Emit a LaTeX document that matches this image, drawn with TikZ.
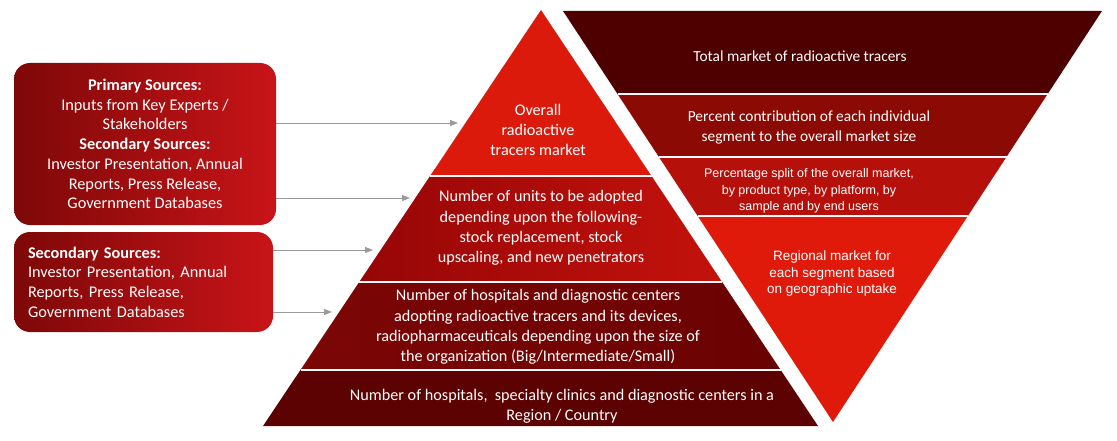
\documentclass[tikz,border=0pt]{standalone}
\usepackage{fontspec}
\setmainfont{Carlito}
\newfontfamily\arialf{Liberation Sans}
\usetikzlibrary{calc,arrows.meta}
\definecolor{pA}{HTML}{DC1A0C}
\definecolor{pBl}{HTML}{960606}
\definecolor{pBr}{HTML}{C4120C}
\definecolor{pCl}{HTML}{7C0606}
\definecolor{pCr}{HTML}{6A0202}
\definecolor{pD}{HTML}{5C0202}
\definecolor{iA}{HTML}{4E0000}
\definecolor{iB}{HTML}{8C0A04}
\definecolor{iC}{HTML}{B5100A}
\definecolor{iD}{HTML}{E01A0A}
\definecolor{bxl}{HTML}{7E0808}
\definecolor{bxr}{HTML}{C81418}
\definecolor{arrg}{HTML}{9A9A9A}
\begin{document}
\begin{tikzpicture}[x=1pt,y=-1pt,
  lbl/.style={text=white,align=center,inner sep=0pt,font=\fontsize{16.2}{20.2}\selectfont},
  ilbl/.style={text=white,align=center,inner sep=0pt,font=\fontsize{15.4}{20}\selectfont},
  albl/.style={text=white,align=center,inner sep=0pt,font=\arialf\fontsize{12.5}{16.5}\selectfont},
  srcbox/.style={rounded corners=16pt,left color=bxl,right color=bxr,text=white,
     font=\fontsize{16.3}{19.7}\selectfont},
  sep/.style={draw=white!92!pink,line width=1.6pt},
  arr/.style={draw=arrg,line width=0.9pt,-{Triangle[length=8pt,width=6pt]}}]
\useasboundingbox[fill=white] (0,0) rectangle (1117,441);
% pyramid
\coordinate (A) at (541,10);
\coordinate (BL) at (263,426);
\coordinate (BR) at (818,426);
\coordinate (L1) at ($(A)!0.399!(BL)$); \coordinate (R1) at ($(A)!0.399!(BR)$);
\coordinate (L2) at ($(A)!0.654!(BL)$); \coordinate (R2) at ($(A)!0.654!(BR)$);
\coordinate (L3) at ($(A)!0.865!(BL)$); \coordinate (R3) at ($(A)!0.865!(BR)$);
\fill[pA] (A) -- (L1) -- (R1) -- cycle;
\shade[left color=pBl,right color=pBr] (L1) -- (L2) -- (R2) -- (R1) -- cycle;
\shade[left color=pCl,right color=pCr] (L2) -- (L3) -- (R3) -- (R2) -- cycle;
\fill[pD] (L3) -- (BL) -- (BR) -- (R3) -- cycle;
\draw[sep] (L1) -- (R1);
\draw[sep] (L2) -- (R2);
\draw[sep] (L3) -- (R3);
% inverted triangle
\coordinate (TL) at (563,11);
\coordinate (TR) at (1102,11);
\coordinate (V) at (833,422);
\coordinate (M1) at ($(TL)!0.202!(V)$); \coordinate (N1) at ($(TR)!0.202!(V)$);
\coordinate (M2) at ($(TL)!0.355!(V)$); \coordinate (N2) at ($(TR)!0.355!(V)$);
\coordinate (M3) at ($(TL)!0.499!(V)$); \coordinate (N3) at ($(TR)!0.499!(V)$);
\fill[iA] (TL) -- (TR) -- (N1) -- (M1) -- cycle;
\fill[iB] (M1) -- (N1) -- (N2) -- (M2) -- cycle;
\fill[iC] (M2) -- (N2) -- (N3) -- (M3) -- cycle;
\fill[iD] (M3) -- (N3) -- (V) -- cycle;
\draw[sep] (M1) -- (N1);
\draw[sep] (M2) -- (N2);
\draw[sep] (M3) -- (N3);
% pyramid texts
\node[lbl] (p1) at (538,130) {Overall\\radioactive\\tracers market};
\node[lbl] (p2) at (541,228) {Number of units to be adopted\\depending upon the following-\\stock replacement, stock\\upscaling, and new penetrators};
\node[lbl] (p3) at (538,327) {Number of hospitals and diagnostic centers\\adopting radioactive tracers and its devices,\\radiopharmaceuticals depending upon the size of\\the organization (Big/Intermediate/Small)};
\node[lbl] (p4) at (562,406) {Number of hospitals,\ \ specialty clinics and diagnostic centers in a\\Region / Country};
% inverted texts
\node[ilbl] (i1) at (800,56) {Total market of radioactive tracers};
\node[ilbl] (i2) at (809,127) {Percent contribution of each individual\\segment to the overall market size};
\node[albl] (i3) at (809,191) {Percentage split of the overall market,\\by product type, by platform, by\\sample and by end users};
\node[albl,font=\arialf\fontsize{13.5}{16.5}\selectfont] (i4) at (832,274) {Regional market for\\each segment based\\on geographic uptake};
% source boxes
\node[srcbox,minimum width=262pt,minimum height=162pt,align=center] (b1) at (145,144)
 {\textbf{Primary Sources:}\\Inputs from Key Experts /\\Stakeholders\\\textbf{Secondary Sources:}\\Investor Presentation, Annual\\Reports, Press Release,\\Government Databases};
\node[srcbox,minimum width=259pt,minimum height=100pt,text width=231pt,inner xsep=14pt,align=left] (b2) at (143.5,282)
 {\textbf{Secondary Sources:}\\Investor Presentation, Annual\\Reports, Press Release,\\Government Databases};
% arrows
\coordinate (a1) at (458,123);
\coordinate (a2) at (410,198);
\coordinate (a3) at (373,250);
\coordinate (a4) at (332,312);
\draw[arr] (b1.east |- a1) -- (a1);
\draw[arr] (b1.east |- a2) -- (a2);
\draw[arr] (b2.east |- a3) -- (a3);
\draw[arr] (b2.east |- a4) -- (a4);
\end{tikzpicture}
\end{document}
